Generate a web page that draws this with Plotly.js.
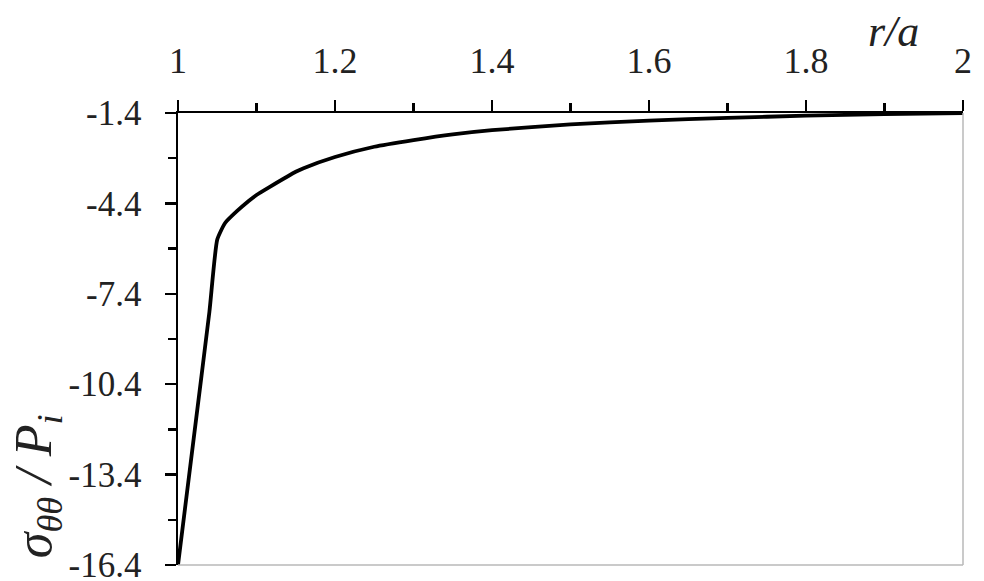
<!DOCTYPE html>
<html>
<head>
<meta charset="utf-8">
<script src="https://cdn.plot.ly/plotly-3.0.1.min.js"></script>
<style>html,body{margin:0;padding:0;background:#fff;}#chart{width:984px;height:581px;}</style>
</head>
<body>
<div id="chart"></div>
<script>
const rOverA = [1.00, 1.02, 1.04, 1.05, 1.06, 1.075, 1.09, 1.10, 1.117, 1.15, 1.16, 1.20, 1.25, 1.30, 1.35, 1.40, 1.50, 1.60, 1.70, 1.80, 1.90, 2.00];
const sigmaOverP = [-16.4, -12.2, -8.0, -5.6, -5.05, -4.66, -4.32, -4.12, -3.85, -3.35, -3.23, -2.86, -2.52, -2.3, -2.11, -1.97, -1.78, -1.65, -1.56, -1.49, -1.44, -1.4];
const xTickVals = [1, 1.2, 1.4, 1.6, 1.8, 2];
const xTickText = ['1', '1.2', '1.4', '1.6', '1.8', '2'];
const yTickVals = [-16.4, -13.4, -10.4, -7.4, -4.4, -1.4];
const yTickText = ['-16.4', '-13.4', '-10.4', '-7.4', '-4.4', '-1.4'];

const serif = '"Liberation Serif", "DejaVu Serif", serif';

const trace = {
  x: rOverA, y: sigmaOverP, type: 'scatter', mode: 'lines',
  line: {color: '#000', width: 3.8, shape: 'spline', smoothing: 0.5},
  hoverinfo: 'skip'
};

const layout = {
  width: 984, height: 581,
  margin: {l: 178, r: 21, t: 113, b: 16},
  paper_bgcolor: '#fff', plot_bgcolor: '#fff',
  showlegend: false,
  xaxis: {
    side: 'top', range: [1, 2], tickmode: 'array', tickvals: xTickVals, ticktext: xTickText,
    ticks: 'outside', ticklen: 11, tickwidth: 2.5, tickcolor: '#000',
    minor: {dtick: 0.1, tick0: 1, ticks: 'outside', ticklen: 8, tickwidth: 2.5, tickcolor: '#000'},
    showline: true, linecolor: '#000', linewidth: 2.5, showgrid: false, zeroline: false,
    tickfont: {family: serif, size: 36, color: '#222'}, ticklabelstandoff: 12,
    ticklabeloverflow: 'allow'
  },
  yaxis: {
    range: [-16.4, -1.4], tickmode: 'array', tickvals: yTickVals, ticktext: yTickText,
    ticks: 'outside', ticklen: 11, tickwidth: 2.5, tickcolor: '#000',
    minor: {dtick: 1.5, tick0: -1.4, ticks: 'outside', ticklen: 8, tickwidth: 2.5, tickcolor: '#000'},
    showline: true, linecolor: '#000', linewidth: 2.5, showgrid: false, zeroline: false,
    tickfont: {family: serif, size: 35, color: '#222'}, ticklabelstandoff: 16,
    ticklabeloverflow: 'allow'
  },
  shapes: [
    {type: 'line', xref: 'paper', yref: 'paper', x0: 0, x1: 1, y0: 0, y1: 0, line: {color: '#b8b8b8', width: 1.5}},
    {type: 'line', xref: 'paper', yref: 'paper', x0: 1, x1: 1, y0: 0, y1: 1, line: {color: '#b8b8b8', width: 1.5}}
  ],
  annotations: [
    {text: '<i>r/a</i>', xref: 'paper', yref: 'paper', x: 0.911, y: 1.18, showarrow: false,
     xanchor: 'center', yanchor: 'middle', font: {family: serif, size: 44, color: '#222'}},
    {text: '<i>σ<sub>θθ</sub> / P<sub>i</sub></i>', xref: 'paper', yref: 'paper', x: -0.178, y: 0.175, showarrow: false,
     textangle: -90, xanchor: 'center', yanchor: 'middle', font: {family: serif, size: 52, color: '#222'}}
  ]
};

Plotly.newPlot('chart', [trace], layout, {displayModeBar: false, staticPlot: true});
</script>
</body>
</html>
